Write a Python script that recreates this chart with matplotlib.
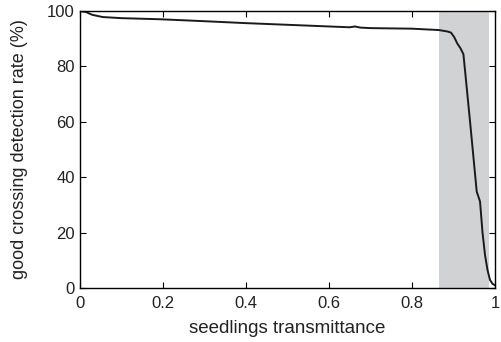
import matplotlib.pyplot as plt

# values
transmittance = [0.0, 0.015, 0.03, 0.055, 0.1, 0.193, 0.3, 0.4, 0.5, 0.6, 0.65, 0.663, 0.675,
                 0.7, 0.75, 0.8, 0.865, 0.885, 0.894, 0.902, 0.909, 0.917, 0.924, 0.94,
                 0.956, 0.964, 0.97, 0.976, 0.982, 0.988, 0.994, 1.0]
detection = [100.0, 99.6, 98.6, 97.8, 97.4, 97.0, 96.3, 95.6, 95.0, 94.4, 94.1, 94.4, 94.0,
             93.8, 93.7, 93.6, 93.1, 92.6, 92.2, 90.5, 88.3, 86.5, 84.4, 60.0,
             34.8, 31.2, 20.0, 11.9, 6.5, 2.9, 1.5, 1.0]
shade_start = 0.865
shade_end = 0.986

plt.rcParams['font.family'] = ['Liberation Sans', 'DejaVu Sans']
fig = plt.figure(figsize=(5.02, 3.42), dpi=100)
ax = fig.add_axes([0.159, 0.158, 0.827, 0.81])

ax.axvspan(shade_start, shade_end, color='#d1d2d4', lw=0, zorder=0)
ax.plot(transmittance, detection, color='#1a1a1a', lw=1.4)

ax.set_xlim(0, 1)
ax.set_ylim(0, 100)
ax.set_xticks([0, 0.2, 0.4, 0.6, 0.8, 1])
ax.set_xticklabels(['0', '0.2', '0.4', '0.6', '0.8', '1'])
ax.set_yticks([0, 20, 40, 60, 80, 100])
ax.tick_params(direction='in', top=True, right=True, length=4, width=0.8,
               labelsize=12, labelcolor='#222222')
ax.tick_params(axis='x', pad=6)
for s in ax.spines.values():
    s.set_linewidth(1.0)

ax.set_xlabel('seedlings transmittance', fontsize=13.5, labelpad=6, color='#222222')
ax.set_ylabel('good crossing detection rate (%)', fontsize=13, labelpad=14, color='#222222')

plt.savefig('out.png', dpi=100)
plt.close()
